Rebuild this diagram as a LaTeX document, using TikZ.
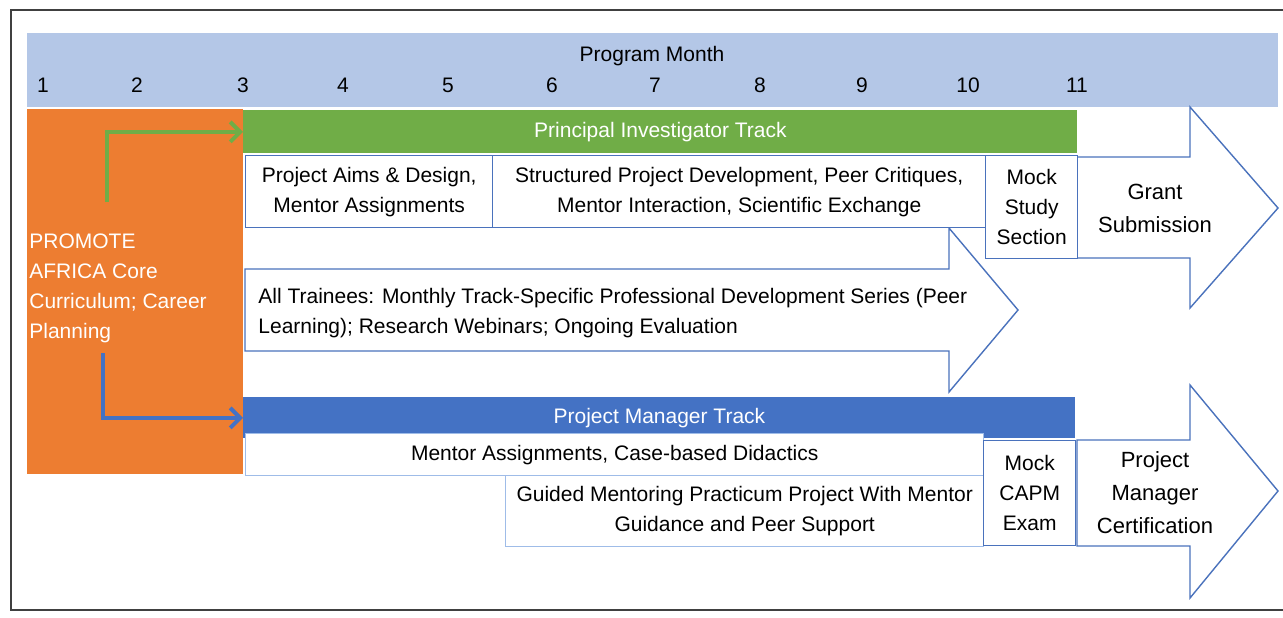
\documentclass[tikz,border=0pt]{standalone}
\usepackage{fontspec}
\setmainfont{Liberation Sans}
\usetikzlibrary{arrows,arrows.meta,shapes,calc}
\usetikzlibrary{positioning}
\definecolor{hdrblue}{HTML}{B4C7E7}
\definecolor{orng}{HTML}{ED7D31}
\definecolor{grn}{HTML}{70AD47}
\definecolor{pmblue}{HTML}{4472C4}
\definecolor{edgeblue}{HTML}{4A72BC}
\definecolor{paleblue}{HTML}{9FBCE8}
\newcommand{\txt}{\fontsize{10.5}{15}\selectfont}
\newcommand{\bigtxt}{\fontsize{11}{16.5}\selectfont}
\tikzstyle{frame}=[draw=black!75, line width=1pt]
\tikzstyle{hdr}=[inner sep=0, font=\fontsize{10.5}{13}\selectfont]
\tikzstyle{core}=[inner sep=0, align=left, text=white, font=\txt]
\tikzstyle{trackbar}=[anchor=north west, inner sep=0, text=white, font=\txt]
\tikzstyle{cell}=[anchor=north west, draw=edgeblue, fill=white, line width=0.7pt,
                 inner sep=0, align=center, font=\txt]
\tikzstyle{pmcell}=[cell, draw=paleblue]
\tikzstyle{bigarrow}=[draw=edgeblue, fill=white, line width=0.7pt]
\tikzstyle{feed}=[-{Straight Barb[length=5pt,width=10pt]}, line width=2pt]

\begin{document}
\begin{tikzpicture}[x=0.5pt,y=-0.5pt]
\useasboundingbox (0,0) rectangle (1283,617);
\draw[frame] (1283,10) -- (11,10) -- (11,610) -- (1283,610);
% month header
\fill[hdrblue] (27,33) rectangle (1278,107);
\node[hdr] (pm) at (652,56) {Program Month};
\foreach \m/\x in {1/43,2/137,3/243,4/343,5/448,6/552,7/655,8/760,9/862,10/968,11/1077}
  \node[hdr] (m\m) at (\x,85) {\m};
% core curriculum
\fill[orng] (27,109) rectangle (243,474);
\node[core, anchor=west] (core) at (29,288) {PROMOTE\\AFRICA Core\\Curriculum; Career\\Planning};
\node[trackbar, fill=grn, minimum width=417pt, minimum height=21.5pt] (pit) at (243,110) {Principal Investigator Track};
\node[trackbar, fill=pmblue, minimum width=416pt, minimum height=20.5pt] (pmt) at (243,397) {Project Manager Track};
\coordinate (gs) at (107,202);
\coordinate (bs) at (103,353);
\draw[feed, grn] (gs) |- (pit.west);
\draw[feed, pmblue] (bs) |- (pmt.west);
% all trainees
\draw[bigarrow] (245,269) -- (949,269) -- (949,228) -- (1018,310) -- (949,392) -- (949,351) -- (245,351) -- cycle;
\node[inner sep=0, anchor=west, align=left, font=\txt] (all) at (258,313)
  {All Trainees: Monthly Track-Specific Professional Development Series (Peer\\Learning); Research Webinars; Ongoing Evaluation};
% PI track
\draw[bigarrow] (1077,157) -- (1190,157) -- (1190,107) -- (1278,208) -- (1190,308) -- (1190,258) -- (1077,258) -- cycle;
\node[inner sep=0, align=center, font=\bigtxt] (grant) at (1155,208) {Grant\\Submission};
\node[cell, minimum width=123.5pt, minimum height=36pt] (aims) at (245,155) {Project Aims \& Design,\\Mentor Assignments};
\node[cell, minimum width=246.5pt, minimum height=36pt] (spd) at (492,155) {Structured Project Development, Peer Critiques,\\Mentor Interaction, Scientific Exchange};
\node[cell, minimum width=46pt, minimum height=51.5pt] (mss) at (985,155) {Mock\\Study\\Section};
% PM track
\draw[bigarrow] (1077,440) -- (1190,440) -- (1190,385) -- (1278,491) -- (1190,598) -- (1190,546) -- (1077,546) -- cycle;
\node[inner sep=0, align=center, font=\bigtxt] (cert) at (1155,493) {Project\\Manager\\Certification};
\node[pmcell, minimum width=369pt, minimum height=21pt] (mad) at (245,433) {Mentor Assignments, Case-based Didactics};
\node[pmcell, minimum width=239pt, minimum height=35.5pt] (gmp) at (505,475) {Guided Mentoring Practicum Project With Mentor\\Guidance and Peer Support};
\node[cell, minimum width=46pt, minimum height=52.5pt] (capm) at (983,440) {Mock\\CAPM\\Exam};
\end{tikzpicture}
\end{document}
